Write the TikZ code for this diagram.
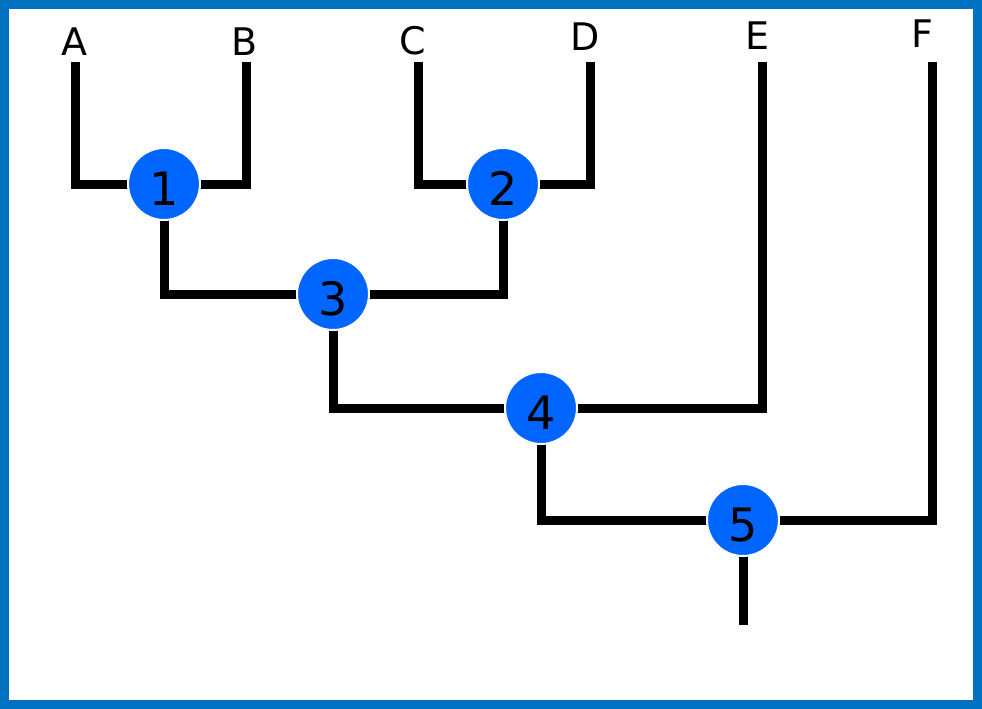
\documentclass[tikz,border=0pt]{standalone}
\usepackage{fontspec}
\setmainfont{DejaVu Sans}
\usetikzlibrary{backgrounds}
\definecolor{frameblue}{RGB}{0,112,192}
\definecolor{nodeblue}{RGB}{0,102,255}
\tikzset{
  numnode/.style={circle, fill=nodeblue, draw=white, line width=2pt, minimum size=72pt, inner sep=0pt, text height=43pt, text depth=0pt, font=\fontsize{46}{46}\selectfont},
  leaflabel/.style={anchor=base, inner sep=0pt, font=\fontsize{38}{38}\selectfont},
  branch/.style={line width=9pt, black, line join=miter}
}
\begin{document}
\begin{tikzpicture}[x=1pt,y=-1pt]
\useasboundingbox (0,0) rectangle (982,709);
% leaf tops and stem end
\coordinate (ta) at (75,62);
\coordinate (tb) at (246,62);
\coordinate (tc) at (418,62);
\coordinate (td) at (590,62);
\coordinate (te) at (762,62);
\coordinate (tf) at (932,62);
\coordinate (root) at (741,625);
% labels
\node[leaflabel] (la) at (74,56) {A};
\node[leaflabel] (lb) at (245,56) {B};
\node[leaflabel] (lc) at (413,55) {C};
\node[leaflabel] (ld) at (585,51) {D};
\node[leaflabel] (le) at (757,50) {E};
\node[leaflabel] (lf) at (922,48) {F};
% numbered nodes
\node[numnode] (n1) at (164,184) {1};
\node[numnode] (n2) at (503,184) {2};
\node[numnode] (n3) at (333,294) {3};
\node[numnode] (n4) at (541,408) {4};
\node[numnode] (n5) at (743,520) {5};
\begin{pgfonlayer}{background}
\fill[white] (0,0) rectangle (982,709);
\draw[frameblue, line width=9pt] (4.5,4.5) rectangle (977.5,704.5);
\draw[branch] (ta) |- (n1.center) -| (tb);
\draw[branch] (tc) |- (n2.center) -| (td);
\draw[branch] (n1.center) |- (n3.center) -| (n2.center);
\draw[branch] (n3.center) |- (n4.center) -| (te);
\draw[branch] (n4.center) |- (n5.center) -| (tf);
\draw[branch] (n5.center) -- (n5.center |- root);
\end{pgfonlayer}
\end{tikzpicture}
\end{document}
